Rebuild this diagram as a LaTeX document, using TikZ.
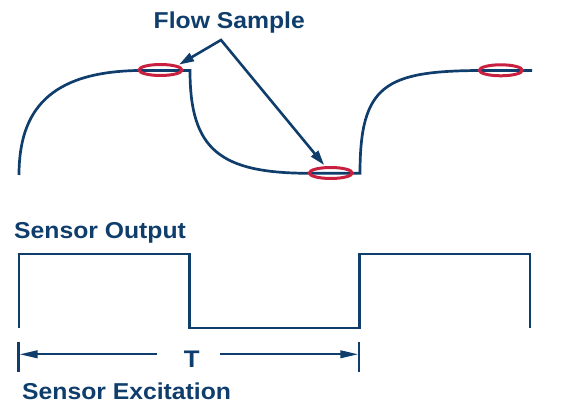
\documentclass[tikz,border=0pt]{standalone}
\usepackage{fontspec}
\setmainfont{Liberation Sans}[FakeStretch=1.075]
\usetikzlibrary{arrows.meta,shapes.geometric}
\definecolor{navy}{RGB}{16,62,108}
\definecolor{crimson}{RGB}{200,32,62}

\begin{document}
\begin{tikzpicture}[x=1pt, y=-1pt,
        signal/.style={draw=navy, line width=2.7pt, line join=miter},
        sample/.style={ellipse, draw=crimson, line width=3pt, minimum width=43pt, minimum height=11pt, inner sep=0pt},
        caption/.style={text=navy, font=\fontsize{23}{23}\selectfont\bfseries, inner sep=0pt, anchor=base west},
        pointer/.style={draw=navy, line width=2.6pt, line join=miter, {Triangle[length=15pt, width=9pt]}-{Triangle[length=15pt, width=9pt]}, shorten <=1.5pt, shorten >=1.5pt},
        period/.style={draw=navy, line width=2.3pt, -{Triangle[length=18pt, width=7.5pt]}}]

        \useasboundingbox (0,0) rectangle (571,411);

        % flow signal
        \draw[signal] (19,175) .. controls (19,110) and (50,72) .. (138,70.5) -- (190,70.5)
            .. controls (190,150) and (220,173.3) .. (310,173.3) -- (360,173.3)
            .. controls (360,85) and (385,71) .. (480,70.5) -- (532,70.5);

        \node[sample] (s1) at (160.5,70) {};
        \node[sample] (s2) at (330.8,173) {};
        \node[sample] (s3) at (500.8,70.3) {};

        \node[caption] (flow) at (153.5,28.3) {Flow Sample};
        \coordinate (apex) at (221,40);
        \draw[pointer] (s1.15) -- (apex) -- (s2.130);

        % sensor output
        \node[caption] (output) at (14,238.3) {Sensor Output};
        \draw[signal] (19,327.7) -- (19,254) -- (189.5,254) -- (189.5,328) -- (359.5,328)
            -- (359.5,254) -- (530,254) -- (530,327.7);

        % excitation period
        \draw[navy, line width=2.2pt] (18.5,341.7) -- (18.5,371.7);
        \draw[navy, line width=2.2pt] (359.3,341.7) -- (359.3,371.7);
        \coordinate (tl) at (19.5,354.3);
        \coordinate (tr) at (358.3,354.3);
        \coordinate (ta) at (156.7,354.3);
        \coordinate (tb) at (220,354.3);
        \node[caption, anchor=base, font=\fontsize{24}{24}\selectfont\bfseries] (T) at (191.7,367.7) {T};
        \draw[period] (ta) -- (tl);
        \draw[period] (tb) -- (tr);

        \node[caption] (excitation) at (22,400) {Sensor Excitation};
    \end{tikzpicture}
\end{document}
